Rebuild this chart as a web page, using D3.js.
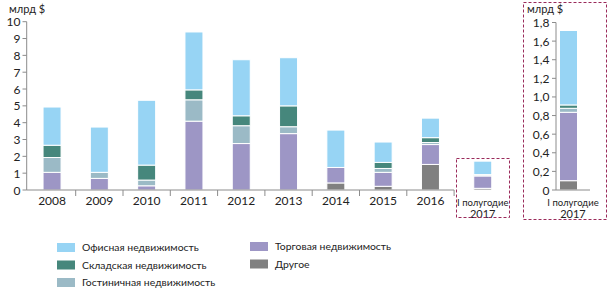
<!DOCTYPE html>
<html>
<head>
<meta charset="utf-8">
<script src="https://cdn.jsdelivr.net/npm/d3@7"></script>
<style>
  body { margin: 0; background: #fff; }
  text { font-family: Lato, "Noto Sans", sans-serif; fill: #222; }
</style>
</head>
<body>
<div id="container"></div>
<script>
/* ---------------- DATA ---------------- */
const periods = ["2008", "2009", "2010", "2011", "2012", "2013", "2014", "2015", "2016", "I полугодие|2017"];

const other     = [0, 0, 0, 0, 0, 0, 0.42, 0.22, 1.52, 0.10];
const trade     = [1.05, 0.69, 0.25, 4.09, 2.76, 3.35, 0.92, 0.83, 1.18, 0.735];
const hotel     = [0.88, 0.36, 0.34, 1.27, 1.06, 0.41, 0, 0.23, 0.12, 0.043];
const warehouse = [0.73, 0, 0.89, 0.59, 0.59, 1.24, 0, 0.36, 0.29, 0.036];
const office    = [2.27, 2.69, 3.85, 3.44, 3.33, 2.86, 2.22, 1.21, 1.16, 0.80];

const leftTicks = [0, 1, 2, 3, 4, 5, 6, 7, 8, 9, 10];
const rightTicks = [0, 0.2, 0.4, 0.6, 0.8, 1.0, 1.2, 1.4, 1.6, 1.8];

const seriesNames = ["Другое", "Торговая недвижимость", "Гостиничная недвижимость", "Складская недвижимость", "Офисная недвижимость"];
const seriesColors = ["#808080", "#9d96c5", "#9bbac6", "#46877c", "#97d4f4"];

/* ---------------- SETUP ---------------- */
const W = 613, H = 292;
const svg = d3.select("#container").append("svg")
  .attr("width", W)
  .attr("height", H);

const rows = periods.map((p, i) => ({
  period: p,
  v0: other[i], v1: trade[i], v2: hotel[i], v3: warehouse[i], v4: office[i]
}));
const keys = ["v0", "v1", "v2", "v3", "v4"];
const stacked = d3.stack().keys(keys)(rows);

const axisColor = "#8c8c8c";
const boxColor = "#9a2a5a";
const barW = 18;

/* ---------------- LEFT CHART ---------------- */
const x = d3.scaleBand().domain(periods).range([28.4, 501.4]);
const y = d3.scaleLinear().domain([0, 10]).range([190, 21.7]);
// the half-year column sits a bit right inside its frame
const shift = p => p.includes("|") ? 5 : 0;

const left = svg.append("g");

stacked.forEach((layer, k) => {
  left.selectAll(null)
    .data(layer)
    .enter()
    .append("rect")
    .attr("x", d => x(d.data.period) + x.bandwidth() / 2 - barW / 2 + shift(d.data.period))
    .attr("y", d => y(d[1]))
    .attr("width", barW)
    .attr("height", d => Math.max(0, y(d[0]) - y(d[1])))
    .attr("fill", seriesColors[k])
    .attr("stroke", "#fff")
    .attr("stroke-width", d => d[1] - d[0] > 0 ? 1 : 0);
});

// y axis
left.append("line")
  .attr("x1", 26.7).attr("x2", 26.7)
  .attr("y1", y(10)).attr("y2", 190)
  .attr("stroke", axisColor);
leftTicks.forEach(t => {
  left.append("line")
    .attr("x1", 22.5).attr("x2", 26.7)
    .attr("y1", y(t)).attr("y2", y(t))
    .attr("stroke", axisColor);
  left.append("text")
    .attr("x", 20.5).attr("y", y(t) + 4.5)
    .attr("text-anchor", "end")
    .attr("font-size", 12)
    .text(t);
});
left.append("text")
  .attr("x", 9).attr("y", 13)
  .attr("font-size", 11)
  .text("млрд $");

// x axis (first nine periods)
const lastFull = periods[8];
left.append("line")
  .attr("x1", 26.7).attr("x2", x(lastFull) + x.bandwidth())
  .attr("y1", 190).attr("y2", 190)
  .attr("stroke", axisColor);
periods.slice(0, 9).forEach(p => {
  left.append("line")
    .attr("x1", x(p) + x.bandwidth()).attr("x2", x(p) + x.bandwidth())
    .attr("y1", 190).attr("y2", 196)
    .attr("stroke", axisColor);
});
periods.forEach(p => {
  const parts = p.split("|");
  const cx = x(p) + x.bandwidth() / 2 + shift(p);
  const t = left.append("text")
    .attr("x", cx)
    .attr("text-anchor", "middle")
    .attr("font-size", parts.length > 1 ? 9.5 : 12);
  if (parts.length === 1) {
    t.attr("y", 205).text(p);
  } else {
    t.attr("y", 206).text(parts[0]);
    left.append("text")
      .attr("x", cx)
      .attr("y", 218)
      .attr("text-anchor", "middle")
      .attr("font-size", 11)
      .text(parts[1]);
  }
});

// small dashed frame
left.append("rect")
  .attr("x", 456.5).attr("y", 158.5)
  .attr("width", 53).attr("height", 59)
  .attr("fill", "none")
  .attr("stroke", boxColor)
  .attr("stroke-dasharray", "3,2");

/* ---------------- RIGHT CHART (zoom) ---------------- */
const h1 = periods.slice(9);
const xr = d3.scaleBand().domain(h1).range([556, 590]);
const yr = d3.scaleLinear().domain([0, 1.8]).range([190, 22.5]);
const fmt = d => d3.format(".1f")(d).replace(".", ",");

const right = svg.append("g");

stacked.forEach((layer, k) => {
  right.selectAll(null)
    .data(layer.filter(d => d.data.period === h1[0]))
    .enter()
    .append("rect")
    .attr("x", d => xr(d.data.period) + 3.5)
    .attr("y", d => yr(d[1]))
    .attr("width", barW)
    .attr("height", d => Math.max(0, yr(d[0]) - yr(d[1])))
    .attr("fill", seriesColors[k])
    .attr("stroke", "#fff")
    .attr("stroke-width", 1);
});

right.append("line")
  .attr("x1", 556).attr("x2", 556)
  .attr("y1", yr(1.8)).attr("y2", 190)
  .attr("stroke", axisColor);
right.append("line")
  .attr("x1", 556).attr("x2", 590)
  .attr("y1", 190).attr("y2", 190)
  .attr("stroke", axisColor);
rightTicks.forEach(t => {
  right.append("line")
    .attr("x1", 552).attr("x2", 556)
    .attr("y1", yr(t)).attr("y2", yr(t))
    .attr("stroke", axisColor);
  right.append("text")
    .attr("x", 549.5).attr("y", yr(t) + 4.5)
    .attr("text-anchor", "end")
    .attr("font-size", 12)
    .text(t === 0 ? "0" : fmt(t));
});
right.append("text")
  .attr("x", 527).attr("y", 13)
  .attr("font-size", 11)
  .text("млрд $");

const rl = h1[0].split("|");
right.append("text")
  .attr("x", xr(h1[0]) + xr.bandwidth() / 2).attr("y", 206)
  .attr("text-anchor", "middle")
  .attr("font-size", 9.5)
  .text(rl[0]);
right.append("text")
  .attr("x", xr(h1[0]) + xr.bandwidth() / 2).attr("y", 218)
  .attr("text-anchor", "middle")
  .attr("font-size", 11)
  .text(rl[1]);

right.append("rect")
  .attr("x", 523.5).attr("y", 2.5)
  .attr("width", 83).attr("height", 217)
  .attr("fill", "none")
  .attr("stroke", boxColor)
  .attr("stroke-dasharray", "3,2");

/* ---------------- LEGEND ---------------- */
const legendItems = [
  { i: 4, col: 0, row: 0 },
  { i: 3, col: 0, row: 1 },
  { i: 2, col: 0, row: 2 },
  { i: 1, col: 1, row: 0 },
  { i: 0, col: 1, row: 1 }
];
const legend = svg.append("g");
legendItems.forEach(it => {
  const lx = it.col === 0 ? 57 : 250;
  const ly = 243 + it.row * 17.5 - (it.col === 1 ? 1 : 0);
  legend.append("rect")
    .attr("x", lx).attr("y", ly)
    .attr("width", 18).attr("height", 9)
    .attr("fill", seriesColors[it.i]);
  legend.append("text")
    .attr("x", lx + 25).attr("y", ly + 8)
    .attr("font-size", 10.4)
    .text(seriesNames[it.i]);
});
</script>
</body>
</html>
